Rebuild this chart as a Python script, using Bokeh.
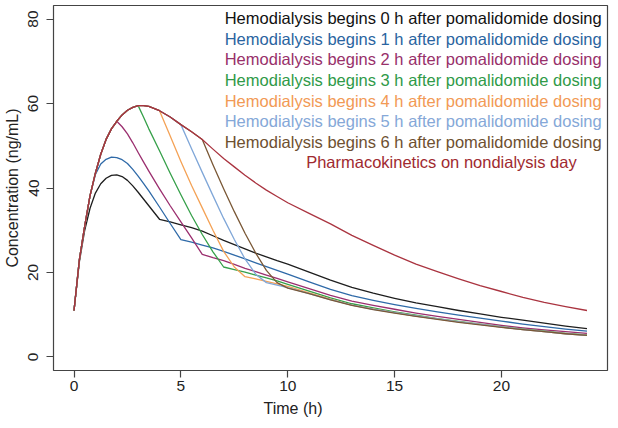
from bokeh.plotting import figure
from bokeh.models import ColumnDataSource, Range1d, FixedTicker, Title, Label
from bokeh.embed import file_html
from bokeh.resources import INLINE

# ---- data ----
time_h = [0, 0.25, 0.5, 0.75, 1, 1.25, 1.5, 1.75, 2, 2.25, 2.5, 2.75, 3, 3.25, 3.5,
          4, 4.5, 5, 5.5, 6, 6.5, 7, 7.5, 8, 8.5, 9, 9.5, 10,
          11, 12, 13, 14, 15, 16, 17, 18, 19, 20, 21, 22, 23, 24]

conc_hd0 = [11, 22.5, 30.0, 35.2, 38.8, 41.0, 42.3, 43.0, 43.1, 42.7, 41.8, 40.5, 39.0, 37.4, 35.8,
            32.6, 32.0, 31.3, 30.6, 29.8, 28.7, 27.6, 26.6, 25.6, 24.6, 23.7, 22.8, 22.0,
            20.1, 18.2, 16.5, 15.1, 13.9, 12.8, 11.9, 11.0, 10.2, 9.4, 8.7, 8.0, 7.3, 6.7]
conc_hd1 = [11, 23, 31, 38.2, 43.2, 45.7, 46.8, 47.3, 47.2, 46.7, 45.8, 44.4, 42.8, 41.1, 39.3,
            35.5, 31.6, 27.8, 27.2, 26.5, 25.8, 25.0, 24.1, 23.2, 22.3, 21.4, 20.5, 19.6,
            17.8, 16.0, 14.5, 13.4, 12.4, 11.5, 10.7, 9.9, 9.2, 8.5, 7.8, 7.2, 6.6, 6.1]
conc_hd2 = [11, 23, 31, 38.2, 43.5, 48.0, 51.5, 54.0, 55.8, 54.5, 52.8, 50.7, 48.4, 46.2, 44.0,
            39.8, 35.8, 32.0, 28.2, 24.3, 23.5, 22.8, 21.9, 21.0, 20.2, 19.4, 18.6, 17.8,
            16.2, 14.6, 13.2, 12.2, 11.3, 10.4, 9.6, 8.9, 8.2, 7.5, 6.9, 6.4, 6.0, 5.6]
conc_hd3 = [11, 23, 31, 38.2, 43.5, 48.0, 51.5, 54.0, 55.8, 57.3, 58.4, 59.1, 59.5, 56.8, 54.0,
            48.8, 43.5, 38.4, 33.5, 29.0, 24.9, 21.3, 20.7, 20.1, 19.4, 18.7, 18.0, 17.2,
            15.6, 14.0, 12.6, 11.6, 10.7, 9.9, 9.1, 8.4, 7.8, 7.2, 6.6, 6.1, 5.6, 5.2]
conc_hd4 = [11, 23, 31, 38.2, 43.5, 48.0, 51.5, 54.0, 55.8, 57.3, 58.4, 59.1, 59.5, 59.5, 59.3,
            58.3, 52.3, 46.3, 40.6, 35.3, 30.0, 25.0, 21.3, 19.0, 18.5, 17.9, 17.3, 16.7,
            15.2, 13.7, 12.3, 11.4, 10.5, 9.7, 9.0, 8.3, 7.7, 7.1, 6.5, 6.0, 5.5, 5.1]
conc_hd5 = [11, 23, 31, 38.2, 43.5, 48.0, 51.5, 54.0, 55.8, 57.3, 58.4, 59.1, 59.5, 59.5, 59.3,
            58.3, 56.8, 55.0, 49.3, 43.7, 38.2, 32.8, 27.8, 23.2, 19.6, 17.6, 17.0, 16.4,
            15.0, 13.6, 12.3, 11.3, 10.5, 9.7, 9.0, 8.3, 7.7, 7.1, 6.5, 6.0, 5.5, 5.1]
conc_hd6 = [11, 23, 31, 38.2, 43.5, 48.0, 51.5, 54.0, 55.8, 57.3, 58.4, 59.1, 59.5, 59.5, 59.3,
            58.3, 56.8, 55.0, 53.3, 51.5, 45.5, 39.8, 34.4, 29.3, 24.6, 20.5, 17.6, 16.3,
            15.0, 13.5, 12.2, 11.2, 10.4, 9.6, 8.9, 8.2, 7.6, 7.0, 6.5, 6.0, 5.5, 5.1]
conc_nondialysis = [11, 23, 31, 38.2, 43.5, 48.0, 51.5, 54.0, 55.8, 57.3, 58.4, 59.1, 59.5, 59.5, 59.3,
                    58.3, 56.8, 55.0, 53.3, 51.5, 49.2, 47.0, 45.0, 43.0, 41.2, 39.5, 38.0, 36.5,
                    34.0, 31.5, 28.8, 26.4, 24.1, 22.0, 20.2, 18.5, 16.9, 15.5, 14.1, 12.9, 11.9, 11.0]

series_labels = [
    "Hemodialysis begins 0 h after pomalidomide dosing",
    "Hemodialysis begins 1 h after pomalidomide dosing",
    "Hemodialysis begins 2 h after pomalidomide dosing",
    "Hemodialysis begins 3 h after pomalidomide dosing",
    "Hemodialysis begins 4 h after pomalidomide dosing",
    "Hemodialysis begins 5 h after pomalidomide dosing",
    "Hemodialysis begins 6 h after pomalidomide dosing",
    "Pharmacokinetics on nondialysis day",
]
series_values = [conc_hd0, conc_hd1, conc_hd2, conc_hd3, conc_hd4, conc_hd5, conc_hd6, conc_nondialysis]
line_colors = ["#1e1e1e", "#2f6aa8", "#9b2f6f", "#36a04a", "#f4a256", "#80a7d8", "#7a5836", "#aa3440"]
text_colors = ["#111111", "#2a64a0", "#98306a", "#2f9a48", "#f29a55", "#85a8d8", "#6e5030", "#a02a30"]

x_ticks = [0, 5, 10, 15, 20]
y_ticks = [0, 20, 40, 60, 80]
x_title = "Time (h)"
y_title = "Concentration (ng/mL)"

FONT = "Liberation Sans"

p = figure(width=610, height=420, output_backend="svg", toolbar_location=None,
           x_range=Range1d(-0.96, 24.96), y_range=Range1d(-3.2, 83.2),
           min_border_left=52, min_border_right=3, min_border_top=5, min_border_bottom=20)
p.background_fill_color = "white"
p.border_fill_color = "white"
p.outline_line_color = "#444444"
p.outline_line_width = 1.2
p.xgrid.visible = False
p.ygrid.visible = False

for vals, col in zip(series_values, line_colors):
    src = ColumnDataSource(dict(t=time_h, c=vals))
    p.line("t", "c", source=src, line_color=col, line_width=1.3, line_join="round")

for ax in (p.xaxis[0], p.yaxis[0]):
    ax.axis_line_color = None
    ax.major_tick_line_color = "#444444"
    ax.major_tick_line_width = 1.2
    ax.major_tick_out = 7
    ax.major_tick_in = 0
    ax.minor_tick_line_color = None
    ax.major_label_text_font = FONT
    ax.major_label_text_font_size = "15.5px"
    ax.major_label_text_color = "#222222"

p.xaxis[0].major_label_standoff = 3
p.yaxis[0].major_label_standoff = 8
p.xaxis[0].ticker = FixedTicker(ticks=x_ticks)
p.yaxis[0].ticker = FixedTicker(ticks=y_ticks)
p.yaxis[0].major_label_orientation = "vertical"
p.yaxis[0].axis_label = y_title
p.yaxis[0].axis_label_text_font = FONT
p.yaxis[0].axis_label_text_font_size = "16px"
p.yaxis[0].axis_label_text_font_style = "normal"
p.yaxis[0].axis_label_text_color = "#222222"
p.yaxis[0].axis_label_standoff = 5

xt = Title(text=x_title, align="left", offset=210, text_font=FONT, text_font_size="16px",
           text_font_style="normal", text_color="#222222", standoff=8)
p.add_layout(xt, "below")

# legend-like text block at top right
top_y = 80.2
step_y = 4.88
for i, (lab, col) in enumerate(zip(series_labels, text_colors)):
    xpos = 7.05 if i < 7 else 10.86
    p.add_layout(Label(x=xpos, y=top_y - i * step_y, text=lab, text_color=col,
                       text_font=FONT, text_font_size="16.5px",
                       text_baseline="middle", text_align="left"))

open("out.html", "w").write(file_html(p, INLINE))
